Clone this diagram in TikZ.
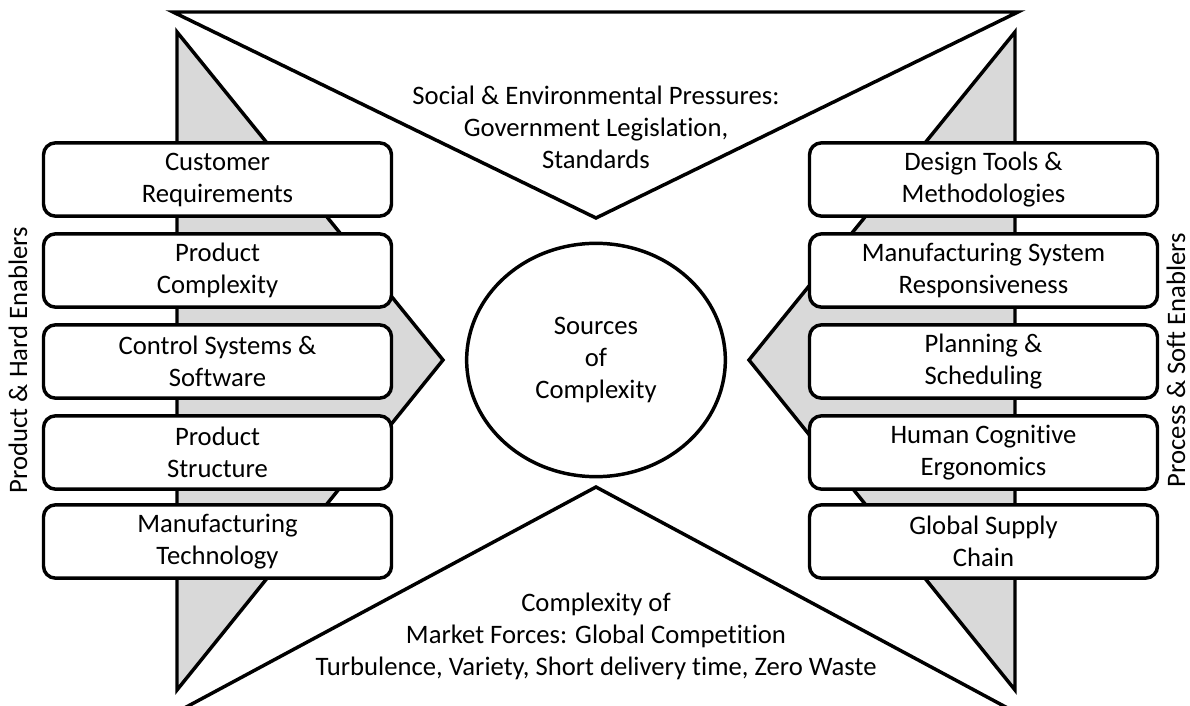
\documentclass[tikz,border=0pt]{standalone}
\usepackage{fontspec}
\setmainfont{Carlito}[Ligatures=NoCommon]
\usetikzlibrary{shapes.geometric}

\tikzset{
  edge/.style={line width=2.6pt, line join=miter},
  wedge/.style={edge, fill=black!15},
  srcbox/.style={draw, line width=2.6pt, fill=white, rounded corners=9pt,
    minimum width=261pt, minimum height=55pt, align=center, inner sep=2pt},
  txt/.style={align=center, inner sep=0pt}
}

\begin{document}
\begin{tikzpicture}[x=0.75pt, y=-0.75pt, font=\fontsize{20}{24}\selectfont]
		\useasboundingbox (0,0) rectangle (1190,706);
		%Pressures and market forces
		\draw [edge, fill=white] (173,12)--(1018,12)--(596,218)--cycle;
		\draw [edge, fill=white] (177,712)--(1015,712)--(596,487)--cycle;
		%Enablers
		\draw [wedge] (177,32)--(443,360)--(177,690)--cycle;
		\draw [wedge] (1015,32)--(749,360)--(1015,690)--cycle;

		\node [txt] (press) at (596,127) {Social \& Environmental Pressures:\\Government Legislation,\\Standards};
		\node [txt] (market) at (596,636) {Complexity of\\Market Forces: Global Competition\\Turbulence, Variety, Short delivery time, Zero Waste};

		\node [ellipse, draw, line width=2.6pt, fill=white, minimum width=194pt, minimum height=175pt, align=center] (src) at (596,360) {Sources\\of\\Complexity};

		%Product side
		\node [srcbox] (cust) at (217.5,179.5) {Customer\\Requirements};
		\node [srcbox] (prodc) at (217.5,270.5) {Product\\Complexity};
		\node [srcbox] (ctrl) at (217.5,361.5) {Control Systems \&\\Software};
		\node [srcbox] (prods) at (217.5,452.5) {Product\\Structure};
		\node [srcbox] (mtech) at (217.5,541.5) {Manufacturing\\Technology};
		\node [txt, rotate=90] (hard) at (18,360) {Product \& Hard Enablers};

		%Process side
		\node [srcbox] (design) at (983.5,179.5) {Design Tools \&\\Methodologies};
		\node [srcbox] (resp) at (983.5,270.5) {Manufacturing System\\Responsiveness};
		\node [srcbox] (plan) at (983.5,361.5) {Planning \&\\Scheduling};
		\node [srcbox] (human) at (983.5,452.5) {Human Cognitive\\Ergonomics};
		\node [srcbox] (supply) at (983.5,541.5) {Global Supply\\Chain};
		\node [txt, rotate=90] (soft) at (1176,360) {Process \& Soft Enablers};
	\end{tikzpicture}
\end{document}
